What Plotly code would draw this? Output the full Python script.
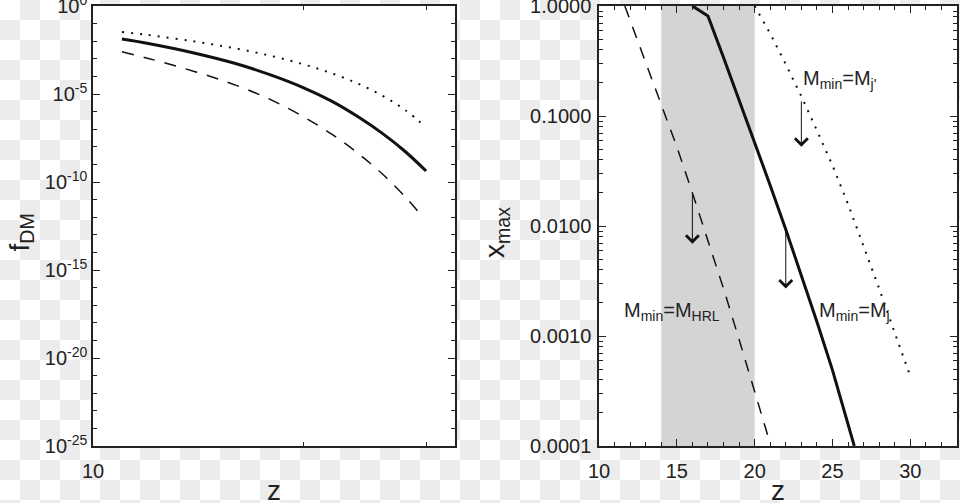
import numpy as np
import plotly.graph_objects as go

# ---------------- data ----------------
# Left panel: f_DM vs z (log-log)
z_left = [11, 12, 14, 16, 18, 20, 22, 24, 26, 28, 30]
f_solid = [1.32e-2, 7.4e-3, 2.09e-3, 5.4e-4, 1.17e-4, 2.3e-5, 3.8e-6, 4.9e-7, 5.6e-8, 5.4e-9, 4.2e-10]
f_dotted = [3.3e-2, 2.24e-2, 9.5e-3, 3.9e-3, 1.45e-3, 4.9e-4, 1.48e-4, 3.8e-5, 7.8e-6, 1.23e-6, 1.26e-7]
z_left_dashed = [11, 12, 14, 16, 18, 20, 22, 24, 26, 28, 29.2]
f_dashed = [2.5e-3, 1.05e-3, 1.86e-4, 3.2e-5, 4.6e-6, 5.2e-7, 5.1e-8, 4.1e-9, 2.75e-10, 1.45e-11, 2.2e-12]

# Right panel: x_max vs z
z_solid_r = [16, 17, 18, 19, 20, 21, 22, 23, 24, 25, 26, 26.4]
x_solid_r = [1.0, 0.81, 0.34, 0.141, 0.0575, 0.0234, 0.0093, 0.0036, 0.00135, 0.00049, 0.000162, 0.0001]
z_dashed_r = [11.66, 12, 13, 14, 15, 16, 17, 18, 19, 20, 21]
x_dashed_r = [1.0, 0.74, 0.31, 0.129, 0.0525, 0.020, 0.0074, 0.0027, 0.00093, 0.00032, 0.000105]
z_dotted_r = [20, 21, 22, 23, 24, 25, 26, 27, 28, 29, 30]
x_dotted_r = [1.0, 0.56, 0.295, 0.151, 0.074, 0.0355, 0.0158, 0.0066, 0.0027, 0.00107, 0.00043]

shade_z = [14, 20]

arrow_z = [16, 22, 23]
arrow_from = [0.02, 0.0100, 0.14]
arrow_to = [0.0069, 0.0027, 0.0526]

label_text = ["M<sub>min</sub>=M<sub>HRL</sub>", "M<sub>min</sub>=M<sub>j</sub>", "M<sub>min</sub>=M<sub>j'</sub>"]
label_z = [11.45, 24.0, 23.0]
label_y = [0.00166, 0.00166, 0.215]

left_ytick_exp = list(range(-25, 1, 5))
left_xticks = [10, 20, 30]
left_xticktext = ["10", "", ""]
right_yticks = [1e-4, 1e-3, 1e-2, 1e-1, 1]
right_yticktext = ["0.0001", "0.0010", "0.0100", "0.1000", "1.0000"]

x_title = "z"
left_y_title = "f<sub>DM</sub>"
right_y_title = "x<sub>max</sub>"

# ---------------- layout geometry (pixels) ----------------
W, H = 960, 503
LEFT_BOX = (93, 455)
RIGHT_BOX = (599, 957)
TOP_PX, BOT_PX = 6, 446
CELL = 20
INK = "#111111"
FONT = "Liberation Sans"

fig = go.Figure()

# transparent-background checkerboard seen around the panels
def px2paper(x, y):
    return x / W, 1 - y / H

shapes = []
for r in range(int(np.ceil(H / CELL))):
    for c in range(int(np.ceil(W / CELL))):
        if (r + c) % 2 == 0:
            continue
        x0, x1 = c * CELL, min((c + 1) * CELL, W)
        y0, y1 = r * CELL, min((r + 1) * CELL, H)
        inside = any(x0 >= b[0] and x1 <= b[1] for b in (LEFT_BOX, RIGHT_BOX)) and y0 >= TOP_PX and y1 <= BOT_PX
        if inside:
            continue
        px0, py0 = px2paper(x0, y0)
        px1, py1 = px2paper(x1, y1)
        shapes.append(dict(type="rect", xref="paper", yref="paper", x0=px0, x1=px1, y0=py1, y1=py0,
                           fillcolor="#ececec", line=dict(width=0), layer="below"))
for b in (LEFT_BOX, RIGHT_BOX):
    px0, py0 = px2paper(b[0], TOP_PX)
    px1, py1 = px2paper(b[1], BOT_PX)
    shapes.append(dict(type="rect", xref="paper", yref="paper", x0=px0, x1=px1, y0=py1, y1=py0,
                       fillcolor="white", line=dict(width=0), layer="below"))
shapes.append(dict(type="rect", xref="x2", yref="y2 domain", x0=shade_z[0], x1=shade_z[1],
                   y0=0, y1=1, fillcolor="#d4d4d4", line=dict(width=0), layer="below"))

fig.add_trace(go.Scatter(x=z_left, y=f_dotted, mode="lines", xaxis="x", yaxis="y",
                         line=dict(color=INK, width=2, dash="2px,7px", shape="spline")))
fig.add_trace(go.Scatter(x=z_left, y=f_solid, mode="lines", xaxis="x", yaxis="y",
                         line=dict(color=INK, width=3, shape="spline")))
fig.add_trace(go.Scatter(x=z_left_dashed, y=f_dashed, mode="lines", xaxis="x", yaxis="y",
                         line=dict(color=INK, width=1.5, dash="12px,10px", shape="spline")))

fig.add_trace(go.Scatter(x=z_dashed_r, y=x_dashed_r, mode="lines", xaxis="x2", yaxis="y2",
                         line=dict(color=INK, width=1.5, dash="12px,10px")))
fig.add_trace(go.Scatter(x=z_solid_r, y=x_solid_r, mode="lines", xaxis="x2", yaxis="y2",
                         line=dict(color=INK, width=3)))
fig.add_trace(go.Scatter(x=z_dotted_r, y=x_dotted_r, mode="lines", xaxis="x2", yaxis="y2",
                         line=dict(color=INK, width=2, dash="2px,7px")))

annotations = []
for zz, y0, y1 in zip(arrow_z, arrow_from, arrow_to):
    annotations.append(dict(x=zz, y=np.log10(y1), ax=zz, ay=np.log10(y0), xref="x2", yref="y2",
                            axref="x2", ayref="y2", showarrow=True, arrowhead=4, arrowsize=2.5,
                            arrowwidth=1, arrowcolor=INK, text=""))
for t, zz, yy in zip(label_text, label_z, label_y):
    annotations.append(dict(x=zz, y=np.log10(yy), xref="x2", yref="y2", text=t, showarrow=False,
                            xanchor="left", yanchor="middle",
                            font=dict(family=FONT, size=20, color="#222")))

# axis titles (placed as annotations for exact positioning)
title_font = dict(family=FONT, size=28, color="#222")
for b in (LEFT_BOX, RIGHT_BOX):
    annotations.append(dict(text=x_title, xref="paper", yref="paper", x=(b[0] + b[1]) / 2 / W, y=0,
                            xanchor="center", yanchor="bottom", yshift=-5, showarrow=False,
                            font=title_font))
for t, xc in ((left_y_title, 20.5), (right_y_title, 496)):
    annotations.append(dict(text=t, xref="paper", yref="paper", x=xc / W, y=1 - 233 / H,
                            xanchor="center", yanchor="middle", textangle=-90, showarrow=False,
                            font=title_font))

tickfont = dict(family=FONT, size=20, color="#222")
axis_common = dict(showline=True, linecolor="#222", linewidth=1.5, mirror="allticks",
                   ticks="inside", tickcolor="#222", tickwidth=1, showgrid=False, zeroline=False,
                   tickfont=tickfont, automargin=False, ticklabeloverflow="allow")

fig.update_layout(
    width=W, height=H, margin=dict(l=0, r=0, t=0, b=0, autoexpand=False),
    paper_bgcolor="white", plot_bgcolor="white", showlegend=False,
    font=dict(family=FONT, color="#222"),
    shapes=shapes, annotations=annotations,
    xaxis=dict(axis_common, type="log", domain=[LEFT_BOX[0]/W, LEFT_BOX[1]/W], anchor="y",
               range=[1, np.log10(33)], tickmode="array", tickvals=left_xticks,
               ticktext=left_xticktext, ticklen=4, ticklabelstandoff=6),
    yaxis=dict(axis_common, type="log", domain=[1 - BOT_PX/H, 1 - TOP_PX/H], anchor="x",
               range=[-25, 0], tickmode="array", tickvals=[10.0**e for e in left_ytick_exp],
               ticktext=["10<sup>%d</sup>" % e for e in left_ytick_exp], ticklen=7,
               minor=dict(tickmode="array", tickvals=[10.0**e for e in range(-25, 1)],
                          ticks="inside", ticklen=4, tickcolor="#222")),
    xaxis2=dict(axis_common, type="linear", domain=[RIGHT_BOX[0]/W, RIGHT_BOX[1]/W], anchor="y2",
                range=[10, 33], tick0=10, dtick=5, ticklen=7, ticklabelstandoff=6,
                minor=dict(dtick=1, ticks="inside", ticklen=4, tickcolor="#222")),
    yaxis2=dict(axis_common, type="log", domain=[1 - BOT_PX/H, 1 - TOP_PX/H], anchor="x2",
                range=[-4, 0], tickmode="array", tickvals=right_yticks,
                ticktext=right_yticktext, ticklen=7, ticklabelstandoff=2,
                minor=dict(tickmode="array",
                           tickvals=[m * 10.0**e for e in range(-4, 0) for m in range(2, 10)],
                           ticks="inside", ticklen=4, tickcolor="#222")),
)

fig.write_html("out.html", config={"displayModeBar": False},
               post_script="document.body.style.margin='0';")
